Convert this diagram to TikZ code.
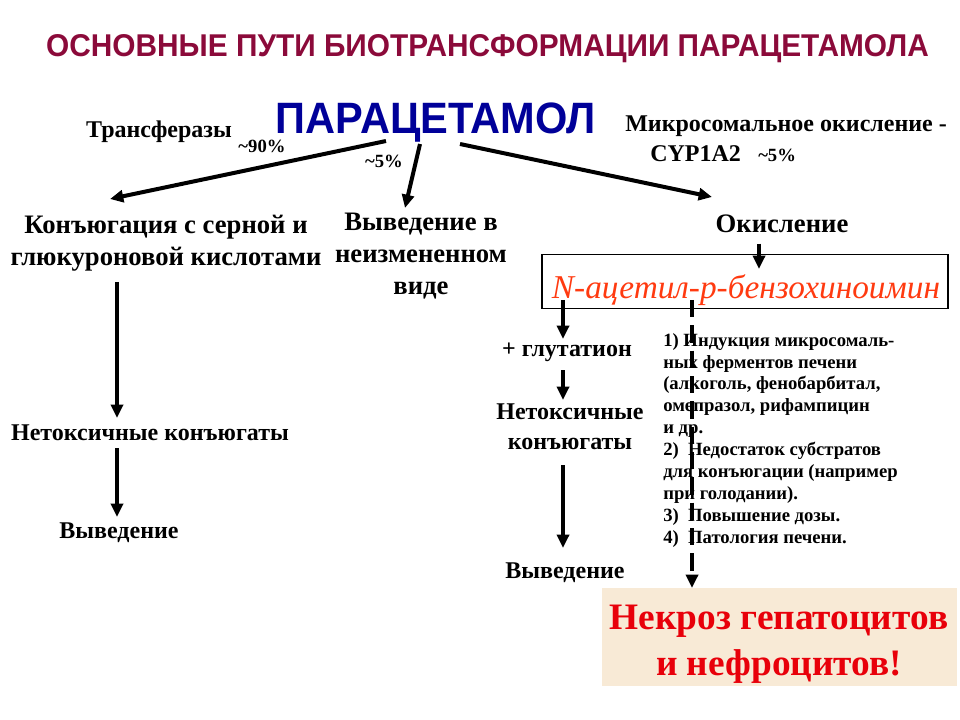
\documentclass[tikz,border=0pt]{standalone}
\usepackage{fontspec}
\setmainfont{Liberation Serif}
\newfontfamily\arialf{Liberation Sans}
\usetikzlibrary{arrows.meta}
\definecolor{titlec}{HTML}{8B0A3A}
\definecolor{navyc}{HTML}{000099}
\definecolor{redc}{HTML}{FF3A10}
\definecolor{necrc}{HTML}{E8000A}
\definecolor{beigec}{HTML}{F8EAD6}
\begin{document}
\begin{tikzpicture}[x=0.75pt,y=-0.75pt,
  lbl/.style={inner sep=0pt, anchor=base, align=center},
  big/.style={lbl, font=\bfseries\fontsize{20}{24}\selectfont},
  mid/.style={lbl, font=\bfseries\fontsize{18}{22}\selectfont},
  sml/.style={lbl, font=\bfseries\fontsize{14}{16.4}\selectfont},
  arr/.style={line width=3pt, -{Triangle[length=10pt,width=9pt]}},
  darr/.style={arr, dash pattern=on 13pt off 6pt}]
\useasboundingbox (0,0) rectangle (960,720);
% title
\node[lbl, text=titlec] (title) at (487.5,57)
  {\resizebox{662pt}{16.5pt}{\arialf\bfseries ОСНОВНЫЕ ПУТИ БИОТРАНСФОРМАЦИИ ПАРАЦЕТАМОЛА}};
\node[lbl, text=navyc] (par) at (436,134)
  {\resizebox{240pt}{23pt}{\arialf\bfseries ПАРАЦЕТАМОЛ}};
% side labels
\node[mid] (transf) at (159,138) {Трансферазы};
\node[sml] (p90) at (262,153) {\textasciitilde90\%};
\node[sml] (p5a) at (384,168) {\textasciitilde5\%};
\node[mid, anchor=base west] (mikro) at (625,132) {Микросомальное окисление -};
\node[mid, anchor=base west] (cyp) at (650,162) {CYP1A2};
\node[sml, anchor=base west] (p5b) at (758,162) {\textasciitilde5\%};
% level 2 (base anchor = last line baseline)
\node[big] (konj) at (166,266) {Конъюгация с серной и\\глюкуроновой кислотами};
\node[big] (vyved) at (421,295) {Выведение в\\неизмененном\\виде};
\node[big] (okis) at (782,233) {Окисление};
% NAPQI box
\node[draw=black, line width=0.8pt, minimum width=304.5pt, minimum height=40pt, inner sep=0pt] (napqi) at (745,281.5) {};
\node[lbl, text=redc] (napqit) at (746,298)
  {\resizebox{291pt}{!}{\itshape N-ацетил-р-бензохиноимин}};
% left chain
\node[mid] (netoxL) at (150,440) {Нетоксичные конъюгаты};
\node[mid] (vyvL) at (119,538) {Выведение};
% right chain
\node[mid] (glut) at (567,356) {+ глутатион};
\node[mid] (netoxR) at (570,449) {Нетоксичные\\конъюгаты};
\node[mid] (vyvR) at (565,578) {Выведение};
% list
\node[sml, anchor=base west, align=left] (list) at (663,543)
  {1) Индукция микросомаль-\\ных ферментов печени\\(алкоголь, фенобарбитал,\\омепразол, рифампицин\\и др.\\2)\ \ Недостаток субстратов\\для конъюгации (например\\при голодании).\\3)\ \ Повышение дозы.\\4)\ \ Патология печени.};
% necrosis
\node[fill=beigec, minimum width=266pt, minimum height=73.5pt, inner sep=0pt] (necr) at (779.5,637) {};
\node[lbl, text=necrc, font=\bfseries\fontsize{28}{34.5}\selectfont] (necrt) at (779,675)
  {Некроз гепатоцитов\\и нефроцитов!};
% connectors
\coordinate (s1) at (386,141);
\coordinate (s2) at (420,144);
\coordinate (s3) at (460,144);
\coordinate (e1) at (110,199);
\coordinate (e2) at (405,208);
\coordinate (e3) at (712,197);
\draw[arr] (s1) -- (e1);
\draw[arr] (s2) -- (e2);
\draw[arr] (s3) -- (e3);
\draw[arr] (okis.south -| 759,0) ++(0,10) -- (759,269);
\draw[arr] (117,282) -- (117,418);
\draw[arr] (117,448) -- (117,517);
\draw[arr] (563,300) -- (563,339);
\draw[arr] (563,370) -- (563,400);
\draw[arr] (563,465) -- (563,548);
\draw[darr] (692,300) -- (692,588);
\end{tikzpicture}
\end{document}
